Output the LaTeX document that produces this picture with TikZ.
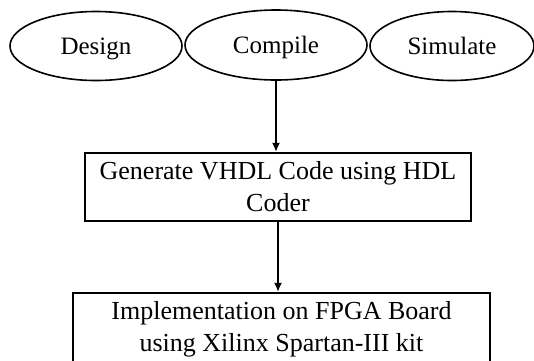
\documentclass[tikz,border=0pt]{standalone}
\usepackage{fontspec}
\setmainfont{Liberation Serif}
\usetikzlibrary{shapes.geometric,arrows.meta}
\begin{document}
\begin{tikzpicture}[x=1pt,y=-1pt,
  stage/.style={draw,ellipse,line width=1.6pt,inner sep=0pt,
    text height=17pt,text depth=0pt,
    font=\fontsize{25}{30}\selectfont},
  stepbox/.style={draw,rectangle,line width=2.2pt,inner sep=0pt,align=center,
    font=\fontsize{26}{32}\selectfont},
  flow/.style={line width=2.2pt,-{Latex[length=9pt,width=8pt]}}]
  \useasboundingbox (0,0) rectangle (534,360);
  % three phases of the design loop
  \node[stage,minimum width=172pt,minimum height=69pt] (design) at (96,46) {Design};
  \node[stage,minimum width=182pt,minimum height=70pt] (compile) at (276,45) {Compile};
  \node[stage,minimum width=164pt,minimum height=69pt] (simulate) at (452,46) {Simulate};
  % code generation and hardware implementation
  \node[stepbox,minimum width=386pt,minimum height=68pt] (gen) at (278,187)
    {Generate VHDL Code using HDL\\Coder};
  \node[stepbox,minimum width=417pt,minimum height=72pt] (impl) at (281.5,329)
    {Implementation on FPGA Board\\using Xilinx Spartan-III kit};
  \draw[flow] (compile.south) -- (compile.south |- gen.north);
  \draw[flow] (gen.south) -- (gen.south |- impl.north);
\end{tikzpicture}
\end{document}
